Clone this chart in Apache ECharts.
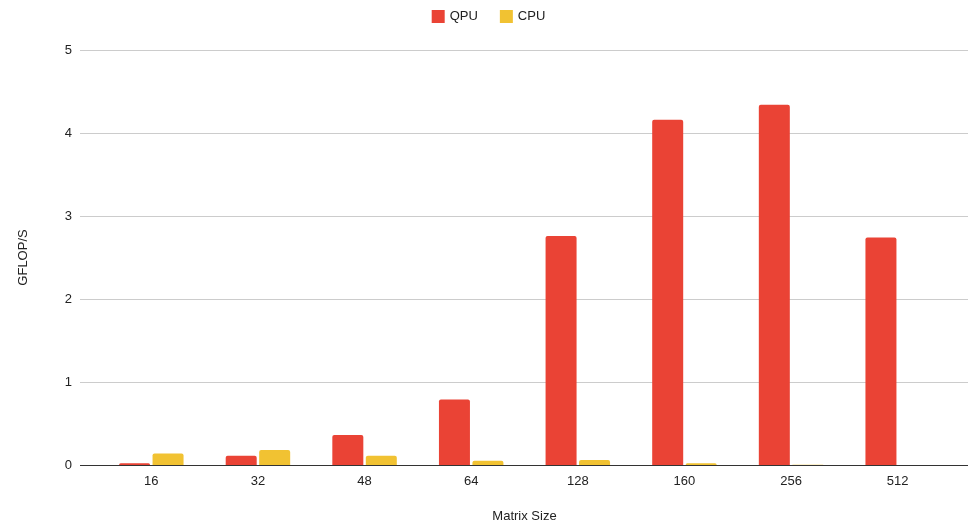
<!DOCTYPE html>
<html><head><meta charset="utf-8">
<script src="https://cdn.jsdelivr.net/npm/echarts@6/dist/echarts.min.js"></script>
<style>html,body{margin:0;padding:0;background:#fff}#c{width:977px;height:526px}</style>
</head><body><div id="c"></div>
<script>
const categories = ['16','32','48','64','128','160','256','512'];
const qpu = [0.02, 0.11, 0.36, 0.79, 2.76, 4.16, 4.34, 2.74];
const cpu = [0.14, 0.18, 0.11, 0.05, 0.06, 0.02, 0.002, 0.001];
const yTicks = [0, 1, 2, 3, 4, 5];

const font = 'Liberation Sans, Arial, sans-serif';
const chart = echarts.init(document.getElementById('c'));
chart.setOption({
  animation: false,
  legend: {
    top: 5, left: 'center', itemWidth: 13, itemHeight: 13, itemGap: 22,
    icon: 'rect',
    textStyle: { fontFamily: font, fontSize: 13, color: '#222' },
    data: ['QPU', 'CPU']
  },
  grid: [
    { left: 80, right: 9, top: 50, bottom: 61, outerBoundsMode: 'none', containLabel: false },
    { left: 98, right: 26, top: 50, bottom: 61, outerBoundsMode: 'none', containLabel: false }
  ],
  xAxis: [
    { gridIndex: 0, type: 'value', min: 0, max: 1, show: false },
    { gridIndex: 1, type: 'category', data: categories,
      axisLine: { show: false }, axisTick: { show: false },
      axisLabel: { fontFamily: font, fontSize: 13, color: '#222', margin: 10 },
      name: 'Matrix Size', nameLocation: 'middle', nameGap: 45,
      nameTextStyle: { fontFamily: font, fontSize: 13, color: '#222' } }
  ],
  yAxis: [
    { gridIndex: 0, type: 'value', min: yTicks[0], max: yTicks[yTicks.length-1], interval: 1,
      axisLine: { show: false }, axisTick: { show: false },
      axisLabel: { fontFamily: font, fontSize: 13, color: '#222', margin: 8 },
      splitLine: { lineStyle: { color: '#cccccc', width: 1 } },
      name: 'GFLOP/S', nameLocation: 'middle', nameGap: 50, nameRotate: 90,
      nameTextStyle: { fontFamily: font, fontSize: 13, color: '#222' } },
    { gridIndex: 1, type: 'value', min: yTicks[0], max: yTicks[yTicks.length-1], interval: 1, show: false,
      splitLine: { show: false } }
  ],
  series: [
    { type: 'line', xAxisIndex: 0, yAxisIndex: 0, data: [], silent: true,
      markLine: { silent: true, symbol: 'none', label: { show: false },
        lineStyle: { color: '#333', width: 1, type: 'solid' },
        data: [{ yAxis: 0 }] } },
    { name: 'QPU', type: 'bar', xAxisIndex: 1, yAxisIndex: 1, data: qpu,
      barWidth: 31, barGap: '8%',
      itemStyle: { color: '#EA4335', borderRadius: [2, 2, 0, 0] } },
    { name: 'CPU', type: 'bar', xAxisIndex: 1, yAxisIndex: 1, data: cpu,
      barWidth: 31, barGap: '8%',
      itemStyle: { color: '#F1C232', borderRadius: [2, 2, 0, 0] } }
  ]
});
</script></body></html>
